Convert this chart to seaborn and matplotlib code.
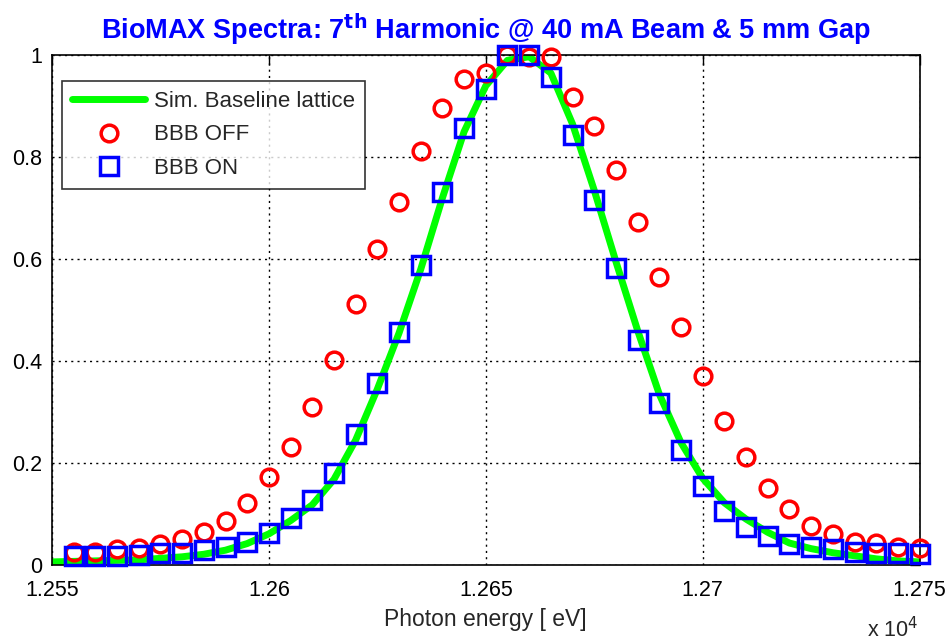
import numpy as np
import pandas as pd
import matplotlib
matplotlib.use("Agg")
import matplotlib.pyplot as plt
import seaborn as sns

# photon energy [eV] of the measured points
energy = list(range(12555, 12755, 5))
bbb_off = [0.025, 0.025, 0.031, 0.033, 0.041, 0.051, 0.065, 0.086, 0.122, 0.173,
           0.232, 0.310, 0.402, 0.512, 0.620, 0.712, 0.812, 0.896, 0.953, 0.965,
           1.000, 0.996, 0.996, 0.918, 0.861, 0.775, 0.673, 0.565, 0.467, 0.371,
           0.282, 0.212, 0.151, 0.110, 0.077, 0.061, 0.045, 0.043, 0.035, 0.033]
bbb_on = [0.018, 0.018, 0.018, 0.019, 0.023, 0.024, 0.029, 0.036, 0.045, 0.063,
          0.092, 0.127, 0.180, 0.257, 0.357, 0.457, 0.588, 0.731, 0.857, 0.933,
          1.000, 1.000, 0.957, 0.843, 0.716, 0.582, 0.441, 0.318, 0.225, 0.155,
          0.106, 0.075, 0.057, 0.041, 0.035, 0.031, 0.026, 0.024, 0.024, 0.022]

# simulated baseline lattice curve
sim_energy = list(range(12550, 12755, 5))
sim_flux = [0.006, 0.007, 0.008, 0.009, 0.010, 0.013, 0.016, 0.021, 0.029, 0.042,
            0.061, 0.087, 0.118, 0.168, 0.245, 0.345, 0.455, 0.580, 0.720, 0.850,
            0.940, 0.990, 0.997, 0.965, 0.865, 0.735, 0.595, 0.460, 0.335, 0.240,
            0.170, 0.122, 0.090, 0.064, 0.043, 0.032, 0.024, 0.018, 0.012, 0.008,
            0.006]

xticks = [12550, 12600, 12650, 12700, 12750]
xticklabels = ["1.255", "1.26", "1.265", "1.27", "1.275"]
yticks = [0, 0.2, 0.4, 0.6, 0.8, 1]
yticklabels = ["0", "0.2", "0.4", "0.6", "0.8", "1"]

sns.set_style("white")
plt.rcParams["font.family"] = ["Liberation Sans", "DejaVu Sans"]

fig = plt.figure(figsize=(9.49, 6.42), dpi=100)
ax = fig.add_axes([0.0548, 0.12, 0.9142, 0.794])

sim = pd.DataFrame({"E": sim_energy, "I": sim_flux})
meas = pd.DataFrame({"E": energy, "off": bbb_off, "on": bbb_on})

sns.lineplot(data=sim, x="E", y="I", ax=ax, color="#00ff00", linewidth=5,
             label="Sim. Baseline lattice", zorder=2)
sns.lineplot(data=meas, x="E", y="off", ax=ax, linestyle="", marker="o",
             markersize=12, markerfacecolor="none", markeredgecolor="#ff0000",
             markeredgewidth=2.5, label="BBB OFF", zorder=3, clip_on=False)
sns.lineplot(data=meas, x="E", y="on", ax=ax, linestyle="", marker="s",
             markersize=13, markerfacecolor="none", markeredgecolor="#0000ff",
             markeredgewidth=2.5, label="BBB ON", zorder=4, clip_on=False)

ax.set_xlim(12550, 12750)
ax.set_ylim(0, 1)
ax.set_xticks(xticks)
ax.set_xticklabels(xticklabels)
ax.set_yticks(yticks)
ax.set_yticklabels(yticklabels)
ax.tick_params(direction="in", length=7, width=1, labelsize=15.5, top=True,
               right=True, colors="black")
ax.tick_params(axis="x", pad=11)
ax.tick_params(axis="y", pad=7)
ax.grid(True, color="black", linestyle=(0, (1.5, 3)), linewidth=1)
for s in ax.spines.values():
    s.set_color("black")
    s.set_linewidth(1.2)

ax.set_xlabel("Photon energy [ eV]", fontsize=16.5, labelpad=5)
ax.set_ylabel("")
ax.set_title("BioMAX Spectra: 7$^{\\mathbf{th}}$ Harmonic @ 40 mA Beam & 5 mm Gap",
             fontsize=19.5, fontweight="bold", color="#0000ff", pad=12)
fig.text(0.968, 0.008, "x 10$^4$", fontsize=15.5, ha="right", va="baseline")

leg = ax.legend(loc="upper left", bbox_to_anchor=(0.0115, 0.949), fontsize=16,
                frameon=True, fancybox=False, edgecolor="black",
                borderaxespad=0, handlelength=3.3, handletextpad=0.4,
                borderpad=0.45, labelspacing=0.55)
leg.get_frame().set_linewidth(1.2)

fig.savefig("out.png", dpi=100)
